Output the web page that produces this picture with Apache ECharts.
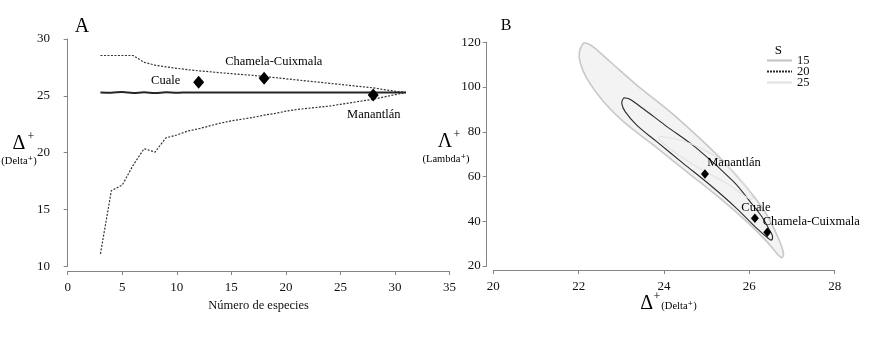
<!DOCTYPE html>
<html>
<head>
<meta charset="utf-8">
<script src="https://cdn.jsdelivr.net/npm/echarts@6/dist/echarts.min.js"></script>
<style>
html,body{margin:0;padding:0;background:#fff;}
#chart{width:872px;height:341px;}
</style>
</head>
<body>
<div id="chart"></div>
<script>
// ---------- Panel A: Δ+ vs number of species ----------
const speciesCounts = [3,4,5,6,7,8,9,10,11,12,13,14,15,16,17,18,19,20,21,22,23,24,25,26,27,28,29,30,31];
const meanDelta = [25.3,25.28,25.33,25.25,25.31,25.24,25.31,25.27,25.3,25.29,25.3,25.3,25.3,25.3,25.3,25.3,25.3,25.3,25.3,25.3,25.3,25.3,25.3,25.3,25.3,25.3,25.3,25.3,25.3];
const upperLimit = [28.55,28.55,28.55,28.55,27.95,27.7,27.55,27.42,27.3,27.2,27.12,27.03,26.95,26.87,26.8,26.7,26.6,26.5,26.4,26.3,26.2,26.1,26.0,25.9,25.8,25.7,25.55,25.4,25.3];
const lowerLimit = [11.1,16.65,17.15,18.9,20.35,20.05,21.3,21.55,21.9,22.1,22.35,22.6,22.8,22.95,23.1,23.3,23.45,23.65,23.8,23.9,24.0,24.1,24.25,24.4,24.55,24.7,24.9,25.1,25.3];

const siteNames = ['Cuale','Chamela-Cuixmala','Manantlán'];
const siteSpecies = [12,18,28];
const siteDeltaA = [26.2,26.55,25.07];

// ---------- Panel B: Λ+ vs Δ+ ----------
const siteDeltaB = [26.13,26.42,24.96];
const siteLambdaB = [41.3,35.1,61.1];

// contour outlines (Δ+, Λ+)
const contourS15 = [[22.11,119.6],[22.02,115.8],[22.03,111.3],[22.19,103.9],[22.58,93.5],[23.05,84.5],[23.75,74.1],[24.53,62.2],[25.31,50.3],[25.94,39.8],[26.41,30.9],[26.64,25.7],[26.76,23.7],[26.8,25.7],[26.68,32.4],[26.41,42.8],[26.02,53.2],[25.47,65.2],[24.92,75.6],[24.14,89.0],[23.36,100.9],[22.74,111.3],[22.34,118.0],[22.19,119.6]];
const contourS20 = [[23.05,95.0],[23.01,92.7],[23.09,89.0],[23.36,83.0],[23.83,75.6],[24.45,65.9],[25.08,56.2],[25.70,45.8],[26.17,36.9],[26.44,32.4],[26.52,31.6],[26.54,33.5],[26.48,35.8],[26.29,42.1],[26.02,48.7],[25.63,57.7],[24.77,72.6],[24.02,83.0],[23.5,90.5],[23.2,94.5],[23.1,95.1]];
const contourS25 = [[23.91,77.9],[24.45,75.9],[25.08,70.5],[25.63,62.3],[25.95,54.5],[26.08,50.5],[26.0,50.0],[25.5,56.5],[24.69,65.3],[24.2,71.5],[23.95,75.5],[23.88,77.2]];

const legendNames = ['15','20','25'];

const SERIF = "'Liberation Serif','DejaVu Serif',serif";
const axisGray = '#858585';
const txt = '#000';

const chart = echarts.init(document.getElementById('chart'), null, {renderer:'canvas'});

function contourSeries(name, pts, fill, stroke, lw, z, legendColor) {
  return {
    type: 'custom', name: name, xAxisIndex: 1, yAxisIndex: 1, z: z, silent: true,
    itemStyle: {color: legendColor},
    data: pts,
    renderItem: function (params, api) {
      if (params.dataIndex !== 0) return null;
      const points = pts.map(function (p) { return api.coord(p); });
      return {
        type: 'polygon',
        shape: {points: points, smooth: 0.35},
        style: {fill: fill, stroke: stroke, lineWidth: lw}
      };
    }
  };
}

const axisLabelStyle = {color: '#111', fontFamily: SERIF, fontSize: 13};

const option = {
  animation: false,
  backgroundColor: '#fff',
  grid: [
    {left: 67.7, top: 39, width: 381.9, height: 227.3},
    {left: 493.3, top: 42.3, width: 341.4, height: 223.7}
  ],
  xAxis: [
    {
      gridIndex: 0, type: 'value', min: 0, max: 35, interval: 5, offset: 4.7,
      axisLine: {show: true, lineStyle: {color: axisGray, width: 1}},
      axisTick: {show: true, length: 4, lineStyle: {color: axisGray}},
      axisLabel: Object.assign({margin: 10}, axisLabelStyle),
      splitLine: {show: false},
      name: 'Número de especies', nameLocation: 'middle', nameGap: 28,
      nameTextStyle: {color: '#111', fontFamily: SERIF, fontSize: 12.5}
    },
    {
      gridIndex: 1, type: 'value', min: 20, max: 28, interval: 2, offset: 4,
      axisLine: {show: true, lineStyle: {color: axisGray, width: 1}},
      axisTick: {show: true, length: 4, lineStyle: {color: axisGray}},
      axisLabel: Object.assign({margin: 10}, axisLabelStyle),
      splitLine: {show: false}
    }
  ],
  yAxis: [
    {
      gridIndex: 0, type: 'value', min: 10, max: 30, interval: 5, offset: 8.7,
      axisLine: {show: true, lineStyle: {color: axisGray, width: 1}},
      axisTick: {show: true, length: 4, lineStyle: {color: axisGray}},
      axisLabel: Object.assign({margin: 9}, axisLabelStyle),
      splitLine: {show: false}
    },
    {
      gridIndex: 1, type: 'value', min: 20, max: 120, interval: 20, offset: 6.6,
      axisLine: {show: true, lineStyle: {color: axisGray, width: 1}},
      axisTick: {show: true, length: 4, lineStyle: {color: axisGray}},
      axisLabel: Object.assign({margin: 6}, axisLabelStyle),
      splitLine: {show: false}
    }
  ],
  legend: {
    orient: 'vertical', left: 767, top: 54, padding: 0, itemWidth: 25, itemHeight: 2, itemGap: -2,
    selectedMode: false, symbolKeepAspect: false,
    textStyle: {color: '#111', fontFamily: SERIF, fontSize: 12.5, lineHeight: 11},
    data: [
      {name: legendNames[0], icon: 'rect', itemStyle: {color: '#c2c2c2'}},
      {name: legendNames[1], icon: 'path://M0,0H2V1H0ZM3,0H5V1H3ZM6,0H8V1H6ZM9,0H11V1H9ZM12,0H14V1H12ZM15,0H17V1H15ZM18,0H20V1H18ZM21,0H23V1H21ZM24,0H25V1H24Z', itemStyle: {color: '#2a2a2a'}},
      {name: legendNames[2], icon: 'rect', itemStyle: {color: '#e0e0e0'}}
    ]
  },
  graphic: [
    {type: 'text', x: 82, y: 27, style: {text: 'A', font: '20px ' + SERIF, fill: txt, textAlign: 'center', textVerticalAlign: 'middle'}},
    {type: 'text', x: 506, y: 26, style: {text: 'B', font: '16px ' + SERIF, fill: txt, textAlign: 'center', textVerticalAlign: 'middle'}},
    {type: 'text', x: 778.3, y: 50.7, style: {text: 'S', font: '13px ' + SERIF, fill: txt, textAlign: 'center', textVerticalAlign: 'middle'}},
    // Panel A y-axis name
    {type: 'text', x: 19, y: 144, style: {text: 'Δ', font: '20px ' + SERIF, fill: txt, textAlign: 'center', textVerticalAlign: 'middle'}},
    {type: 'text', x: 31, y: 136.5, style: {text: '+', font: '12px ' + SERIF, fill: txt, textAlign: 'center', textVerticalAlign: 'middle'}},
    {type: 'text', x: 19, y: 161.7, style: {text: '(Delta⁺)', font: '10.5px ' + SERIF, fill: txt, textAlign: 'center', textVerticalAlign: 'middle'}},
    // Panel B y-axis name
    {type: 'text', x: 445, y: 142, style: {text: 'Λ', font: '20px ' + SERIF, fill: txt, textAlign: 'center', textVerticalAlign: 'middle'}},
    {type: 'text', x: 457, y: 135, style: {text: '+', font: '12px ' + SERIF, fill: txt, textAlign: 'center', textVerticalAlign: 'middle'}},
    {type: 'text', x: 446, y: 159.5, style: {text: '(Lambda⁺)', font: '10.5px ' + SERIF, fill: txt, textAlign: 'center', textVerticalAlign: 'middle'}},
    // Panel B x-axis name
    {type: 'text', x: 646.7, y: 303.5, style: {text: 'Δ', font: '20px ' + SERIF, fill: txt, textAlign: 'center', textVerticalAlign: 'middle'}},
    {type: 'text', x: 657, y: 297, style: {text: '+', font: '12px ' + SERIF, fill: txt, textAlign: 'center', textVerticalAlign: 'middle'}},
    {type: 'text', x: 679, y: 306, style: {text: '(Delta⁺)', font: '10.5px ' + SERIF, fill: txt, textAlign: 'center', textVerticalAlign: 'middle'}}
  ],
  series: [
    {
      type: 'line', name: 'upper', xAxisIndex: 0, yAxisIndex: 0, symbol: 'none', silent: true,
      data: speciesCounts.map(function (s, i) { return [s, upperLimit[i]]; }),
      lineStyle: {color: '#333', width: 1.2, type: [2, 1.5]}, z: 2
    },
    {
      type: 'line', name: 'lower', xAxisIndex: 0, yAxisIndex: 0, symbol: 'none', silent: true,
      data: speciesCounts.map(function (s, i) { return [s, lowerLimit[i]]; }),
      lineStyle: {color: '#333', width: 1.2, type: [2, 1.5]}, z: 2
    },
    {
      type: 'line', name: 'mean', xAxisIndex: 0, yAxisIndex: 0, symbol: 'none', silent: true, smooth: 0.3,
      data: speciesCounts.map(function (s, i) { return [s, meanDelta[i]]; }),
      lineStyle: {color: '#262626', width: 2}, z: 3
    },
    {
      type: 'scatter', name: 'sitesA', xAxisIndex: 0, yAxisIndex: 0, symbol: 'diamond', symbolSize: [11, 13], silent: true,
      itemStyle: {color: '#000', opacity: 1}, z: 5,
      data: siteNames.map(function (n, i) {
        const offs = [[-33, -1], [9.7, -16.7], [0.6, 19.7]];
        return {value: [siteSpecies[i], siteDeltaA[i]], name: n,
          label: {show: true, position: 'inside', offset: offs[i], formatter: n, color: txt, fontFamily: SERIF, fontSize: 12.5}};
      })
    },
    contourSeries(legendNames[0], contourS15, '#f3f3f3', '#c8c8c8', 1.6, 1, '#c2c2c2'),
    contourSeries(legendNames[1], contourS20, 'rgba(0,0,0,0)', '#2a2a2a', 1.1, 2, '#2a2a2a'),
    contourSeries(legendNames[2], contourS25, 'rgba(0,0,0,0)', '#e2e2e2', 1.1, 3, '#e0e0e0'),
    {
      type: 'scatter', name: 'sitesB', xAxisIndex: 1, yAxisIndex: 1, symbol: 'diamond', symbolSize: [8, 9.5], silent: true,
      itemStyle: {color: '#000', opacity: 1}, z: 5,
      data: siteNames.map(function (n, i) {
        const offs = [[1, -11], [44, -10.6], [29, -11.3]];
        return {value: [siteDeltaB[i], siteLambdaB[i]], name: n,
          label: {show: true, position: 'inside', offset: offs[i], formatter: n, color: txt, fontFamily: SERIF, fontSize: 12.5}};
      })
    }
  ]
};

chart.setOption(option);
</script>
</body>
</html>
